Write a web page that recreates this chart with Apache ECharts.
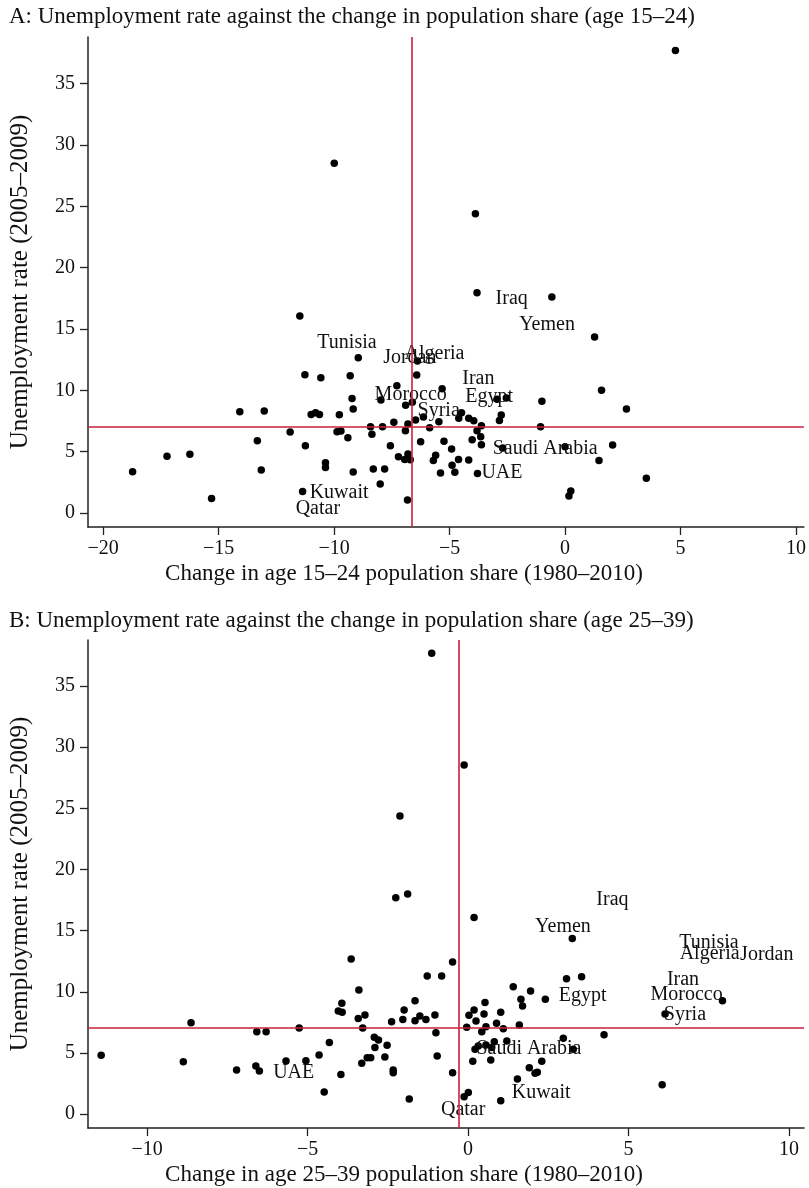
<!DOCTYPE html>
<html>
<head>
<meta charset="utf-8">
<script src="https://cdn.jsdelivr.net/npm/echarts@6/dist/echarts.min.js"></script>
<style>
html,body{margin:0;padding:0;background:#fff;}
#chart{width:809px;height:1188px;}
</style>
</head>
<body>
<div id="chart"></div>
<script>
// ---------- data ----------
const titleA = 'A: Unemployment rate against the change in population share (age 15–24)';
const titleB = 'B: Unemployment rate against the change in population share (age 25–39)';
const xNameA = 'Change in age 15–24 population share (1980–2010)';
const xNameB = 'Change in age 25–39 population share (1980–2010)';
const yName = 'Unemployment rate (2005–2009)';

const xTicksA = [-20, -15, -10, -5, 0, 5, 10];
const xTicksB = [-10, -5, 0, 5, 10];
const yTicks = [0, 5, 10, 15, 20, 25, 30, 35];

const refA = { x: -6.64, y: 7.0 };
const refB = { x: -0.29, y: 7.03 };

const pointsA = [
  [4.78,37.7],[-9.99,28.5],[-3.88,24.4],[-3.81,17.96],[-0.57,17.6],[1.28,14.34],
  [-11.48,16.06],[-8.95,12.66],[-6.39,12.39],[-6.42,11.25],[-11.26,11.27],[-10.57,11.03],
  [-9.3,11.19],[-7.28,10.38],[-5.32,10.13],[1.58,10.0],[-9.22,9.34],[-7.97,9.21],
  [-6.9,8.78],[-6.61,9.02],[-2.94,9.27],[-2.54,9.37],[-1.0,9.1],[2.66,8.48],
  [-9.17,8.48],[-14.08,8.26],[-13.02,8.31],[-10.99,8.04],[-10.8,8.17],[-10.63,8.04],
  [-9.77,8.01],[-4.48,8.17],[-4.6,7.72],[-4.17,7.72],[-3.95,7.52],[-2.76,7.99],
  [-2.84,7.55],[-6.47,7.58],[-6.13,7.82],[-5.46,7.44],[-6.8,7.25],[-7.41,7.39],
  [-3.62,7.12],[-1.06,7.03],[-8.42,7.03],[-7.9,7.03],[-5.86,6.95],[-6.91,6.71],
  [-3.81,6.71],[-3.65,6.22],[-11.9,6.6],[-9.87,6.63],[-9.7,6.68],[-9.4,6.14],
  [-8.36,6.41],[-13.32,5.89],[-11.24,5.49],[-7.56,5.49],[-6.25,5.81],[-5.24,5.84],
  [-4.02,5.98],[-3.62,5.57],[-4.91,5.22],[-2.7,5.3],[0.0,5.41],[2.06,5.54],
  [1.47,4.29],[-5.6,4.7],[-5.7,4.29],[-4.61,4.37],[-4.17,4.32],[-4.89,3.89],
  [-4.77,3.32],[-5.39,3.26],[-3.79,3.23],[-7.21,4.59],[-6.8,4.81],[-6.94,4.37],
  [-6.7,4.35],[-16.24,4.78],[-17.23,4.62],[-18.72,3.37],[-13.15,3.5],[-15.3,1.19],
  [-11.36,1.76],[-10.37,4.1],[-10.37,3.72],[-9.17,3.34],[-8.3,3.59],[-7.81,3.59],
  [-8.0,2.36],[-6.82,1.06],[3.52,2.83],[0.25,1.79],[0.17,1.39]
];

const pointsB = [
  [-1.13,37.67],[-0.12,28.54],[-2.12,24.37],[-2.25,17.69],[-1.88,17.99],[0.19,16.08],
  [3.25,14.36],[-3.64,12.67],[-0.48,12.43],[-1.27,11.28],[-0.82,11.28],[3.07,11.06],
  [3.54,11.23],[1.41,10.41],[1.95,10.06],[-3.4,10.14],[1.65,9.38],[1.7,8.83],
  [2.41,9.38],[7.93,9.27],[6.14,8.18],[-1.65,9.27],[-1.99,8.5],[-2.03,7.74],
  [-1.65,7.63],[-1.5,8.01],[-1.31,7.74],[-1.03,8.09],[-1.0,6.65],[-0.96,4.74],
  [-0.48,3.38],[-1.83,1.23],[-0.12,1.42],[0.01,1.77],[1.02,1.09],[1.54,2.86],
  [1.91,3.79],[2.09,3.33],[2.16,3.41],[2.3,4.31],[2.97,6.19],[3.28,5.29],
  [4.24,6.49],[6.05,2.4],[0.15,4.31],[0.71,4.42],[0.22,5.29],[0.32,5.56],
  [0.56,5.64],[0.74,5.45],[0.82,5.91],[1.21,5.97],[-0.04,7.09],[0.43,6.73],
  [0.56,7.14],[0.89,7.42],[1.1,6.98],[1.6,7.28],[0.03,8.07],[0.19,8.5],
  [0.25,7.6],[0.5,8.18],[0.53,9.13],[1.02,8.32],[-3.93,9.05],[-4.04,8.42],
  [-3.92,8.32],[-2.38,7.55],[-3.21,8.09],[-3.42,7.82],[-5.26,7.03],[-3.28,7.03],
  [-4.32,5.86],[-2.92,6.27],[-2.79,6.05],[-2.9,5.45],[-2.52,5.62],[-4.64,4.82],
  [-5.05,4.36],[-3.14,4.6],[-3.03,4.6],[-3.31,4.15],[-2.59,4.66],[-2.33,3.6],
  [-2.33,3.38],[-3.96,3.24],[-4.48,1.8],[-11.43,4.8],[-8.87,4.28],[-8.63,7.47],
  [-7.21,3.6],[-6.61,3.92],[-6.5,3.52],[-6.58,6.73],[-6.29,6.73],[-5.67,4.33]
];

// country label anchors (text centre) in data units
const labelsA = [
  ['Iraq',-2.31,17.44],['Yemen',-0.78,15.38],['Tunisia',-9.44,13.91],['Algeria',-5.65,12.96],
  ['Jordan',-6.72,12.66],['Iran',-3.75,10.95],['Morocco',-6.68,9.62],['Egypt',-3.28,9.48],
  ['Syria',-5.47,8.31],['Saudi Arabia',-0.86,5.27],['UAE',-2.73,3.29],['Kuwait',-9.78,1.68],
  ['Qatar',-10.7,0.35]
];
const labelsB = [
  ['Iraq',4.5,17.5],['Yemen',2.96,15.32],['Tunisia',7.51,14.01],['Algeria',7.53,13.14],
  ['Jordan',9.31,13.06],['Iran',6.7,10.96],['Morocco',6.81,9.79],['Egypt',3.57,9.65],
  ['Syria',6.76,8.09],['Saudi Arabia',1.9,5.37],['UAE',-5.43,3.41],['Kuwait',2.28,1.75],
  ['Qatar',-0.15,0.33]
];

// ---------- style ----------
const FONT = 'Liberation Serif';
const TXT = '#111';
const RED = '#c8203c';
const fsTitle = 23, fsName = 23, fsYName = 25, fsTick = 20, fsLab = 20;

function fmt(v){ return v < 0 ? '\u2212' + Math.abs(v) : String(v); }

function xAxisCfg(grid, min, max, ticks, name){
  return {
    type:'value', gridIndex:grid, min:min, max:max,
    name:name, nameLocation:'middle', nameGap:35,
    nameTextStyle:{fontFamily:FONT, fontSize:fsName, color:TXT, padding:[0,84,0,0]},
    axisLine:{show:true, onZero:false, lineStyle:{color:'#222', width:1.5}},
    axisTick:{show:true, length:8, lineStyle:{color:'#222', width:1.3}, customValues:ticks},
    axisLabel:{fontFamily:FONT, fontSize:fsTick, color:TXT, margin:12, customValues:ticks, formatter:fmt},
    splitLine:{show:false}
  };
}
function yAxisCfg(grid, min, max){
  return {
    type:'value', gridIndex:grid, min:min, max:max,
    name:yName, nameLocation:'middle', nameGap:55, nameRotate:90,
    nameTextStyle:{fontFamily:FONT, fontSize:fsYName, color:TXT},
    axisLine:{show:true, onZero:false, lineStyle:{color:'#222', width:1.5}},
    axisTick:{show:true, length:8, lineStyle:{color:'#222', width:1.3}, customValues:yTicks},
    axisLabel:{fontFamily:FONT, fontSize:fsTick, color:TXT, margin:13, customValues:yTicks, formatter:fmt},
    splitLine:{show:false}
  };
}
function dots(idx, pts, ref){
  return {
    type:'scatter', xAxisIndex:idx, yAxisIndex:idx, data:pts,
    symbol:'circle', symbolSize:7.5, itemStyle:{color:'#000', opacity:1}, z:3,
    markLine:{
      silent:true, symbol:'none', label:{show:false},
      lineStyle:{color:RED, width:1.6, type:'solid', opacity:1},
      data:[{xAxis:ref.x},{yAxis:ref.y}]
    }
  };
}
function names(idx, lab){
  return {
    type:'scatter', xAxisIndex:idx, yAxisIndex:idx,
    data:lab.map(d=>({name:d[0], value:[d[1], d[2]]})),
    symbolSize:2, itemStyle:{color:'rgba(0,0,0,0)', opacity:1}, z:4,
    label:{show:true, position:'inside', formatter:'{b}', fontFamily:FONT, fontSize:fsLab,
           color:TXT, opacity:1, textBorderWidth:0}
  };
}

const chart = echarts.init(document.getElementById('chart'), null, {renderer:'canvas'});
chart.setOption({
  animation:false,
  backgroundColor:'#fff',
  title:[
    {text:titleA, left:4, top:0, textStyle:{fontFamily:FONT, fontSize:fsTitle, fontWeight:'normal', color:TXT}},
    {text:titleB, left:4, top:604, textStyle:{fontFamily:FONT, fontSize:fsTitle, fontWeight:'normal', color:TXT}}
  ],
  grid:[
    {left:86, top:37, width:719, height:490},
    {left:88, top:640, width:716, height:488}
  ],
  xAxis:[ xAxisCfg(0, -20.65, 10.34, xTicksA, xNameA), xAxisCfg(1, -11.84, 10.47, xTicksB, xNameB) ],
  yAxis:[ yAxisCfg(0, -1.14, 38.8), yAxisCfg(1, -1.14, 38.76) ],
  series:[ dots(0, pointsA, refA), names(0, labelsA), dots(1, pointsB, refB), names(1, labelsB) ]
});
</script>
</body>
</html>
